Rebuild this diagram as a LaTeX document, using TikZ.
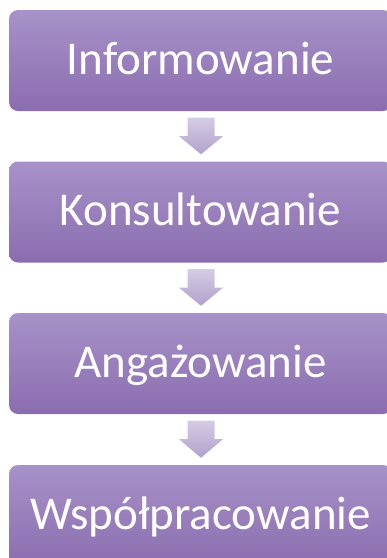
\documentclass[tikz,border=0pt]{standalone}
\usepackage{fontspec}
\setmainfont{Carlito}
\usetikzlibrary{calc}

\definecolor{boxtop}{HTML}{A792C9}
\definecolor{boxbot}{HTML}{8B6DAF}
\definecolor{arrtop}{HTML}{D5CCE6}
\definecolor{arrbot}{HTML}{B2A1CC}

\tikzset{
 stage/.style={rounded corners=9pt, top color=boxtop, bottom color=boxbot,
   text=white, minimum width=383pt, minimum height=101pt, inner sep=0pt,
   text height=32pt, text depth=5pt, font=\fontsize{47}{51}\selectfont},
 flow/.style={top color=arrtop, bottom color=arrbot}
}

\begin{document}
\begin{tikzpicture}[x=1pt,y=-1pt]
 \useasboundingbox (0,0) rectangle (387,558);
 \clip (0,0) rectangle (387,558);
 \node[stage] (inf) at (200.5,60.5) {Informowanie};
 \node[stage] (kon) at (200.5,212) {Konsultowanie};
 \node[stage] (ang) at (200.5,363.5) {Angażowanie};
 \node[stage] (wsp) at (200.5,515.5) {Współpracowanie};
 \foreach \a/\b in {inf/kon,kon/ang,ang/wsp}
  \path[flow] ($(\a.south)+(-13,6.5)$) -- ($(\a.south)+(14,6.5)$)
   -- ($(\a.south)+(14,25)$) -- ($(\a.south)+(22.5,25)$)
   -- ($(\b.north)+(0.5,-7)$) -- ($(\a.south)+(-21.5,25)$)
   -- ($(\a.south)+(-13,25)$) -- cycle;
\end{tikzpicture}
\end{document}
